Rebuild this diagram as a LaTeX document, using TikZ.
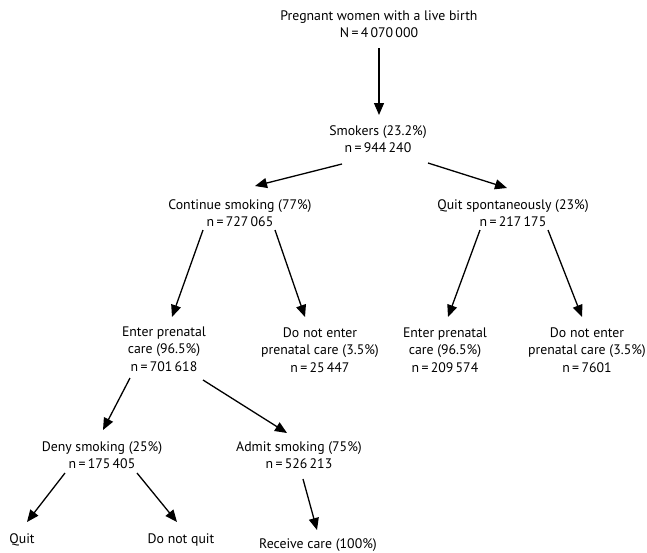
\documentclass[tikz,border=0pt]{standalone}
\usepackage{fontspec}
\setmainfont{PT Sans}
\usetikzlibrary{arrows.meta}
\begin{document}
\begin{tikzpicture}[x=1pt,y=-1pt,
  lbl/.style={align=center,inner sep=0pt,font=\fontsize{13.8}{17.5}\selectfont},
  arr/.style={line width=1.3pt,-{Triangle[length=12pt,width=10pt]}}]
\useasboundingbox (0,0) rectangle (647,552);
\node[lbl] (top) at (379,24) {Pregnant women with a live birth\\N\,=\,4\,070\,000};
\node[lbl] (smk) at (378,139) {Smokers (23.2\%)\\n\,=\,944\,240};
\node[lbl] (cont) at (240,213) {Continue smoking (77\%)\\n\,=\,727\,065};
\node[lbl] (quit) at (513,213) {Quit spontaneously (23\%)\\n\,=\,217\,175};
\node[lbl] (ent1) at (164,349) {Enter prenatal\\care (96.5\%)\\n\,=\,701\,618};
\node[lbl] (dne1) at (320,350) {Do not enter\\prenatal care (3.5\%)\\n\,=\,25\,447};
\node[lbl] (ent2) at (445,350) {Enter prenatal\\care (96.5\%)\\n\,=\,209\,574};
\node[lbl] (dne2) at (587,350) {Do not enter\\prenatal care (3.5\%)\\n\,=\,7601};
\node[lbl] (deny) at (102,455) {Deny smoking (25\%)\\n\,=\,175\,405};
\node[lbl] (admit) at (299,455) {Admit smoking (75\%)\\n\,=\,526\,213};
\node[lbl] (q) at (22,540) {Quit};
\node[lbl] (dnq) at (181,540) {Do not quit};
\node[lbl] (rc) at (318,545) {Receive care (100\%)};
% connectors
\draw[arr] ([shift={(0,24)}]top.center) -- ([shift={(1,-24)}]smk.center);
\draw[arr] ([shift={(-36,25)}]smk.center) -- ([shift={(15,-27)}]cont.center);
\draw[arr] ([shift={(50,24)}]smk.center) -- ([shift={(-6,-25)}]quit.center);
\draw[arr] ([shift={(-37,17)}]cont.center) -- ([shift={(8,-32)}]ent1.center);
\draw[arr] ([shift={(35,17)}]cont.center) -- ([shift={(-15,-33)}]dne1.center);
\draw[arr] ([shift={(-33,17)}]quit.center) -- ([shift={(3,-33)}]ent2.center);
\draw[arr] ([shift={(35,17)}]quit.center) -- ([shift={(-5,-33)}]dne2.center);
\draw[arr] ([shift={(-34,29)}]ent1.center) -- ([shift={(1,-25)}]deny.center);
\draw[arr] ([shift={(39,31)}]ent1.center) -- ([shift={(-12,-22)}]admit.center);
\draw[arr] ([shift={(-37,18)}]deny.center) -- ([shift={(5,-18)}]q.center);
\draw[arr] ([shift={(35,18)}]deny.center) -- ([shift={(-4,-18)}]dnq.center);
\draw[arr] ([shift={(4,24)}]admit.center) -- ([shift={(-1,-15)}]rc.center);
\end{tikzpicture}
\end{document}
